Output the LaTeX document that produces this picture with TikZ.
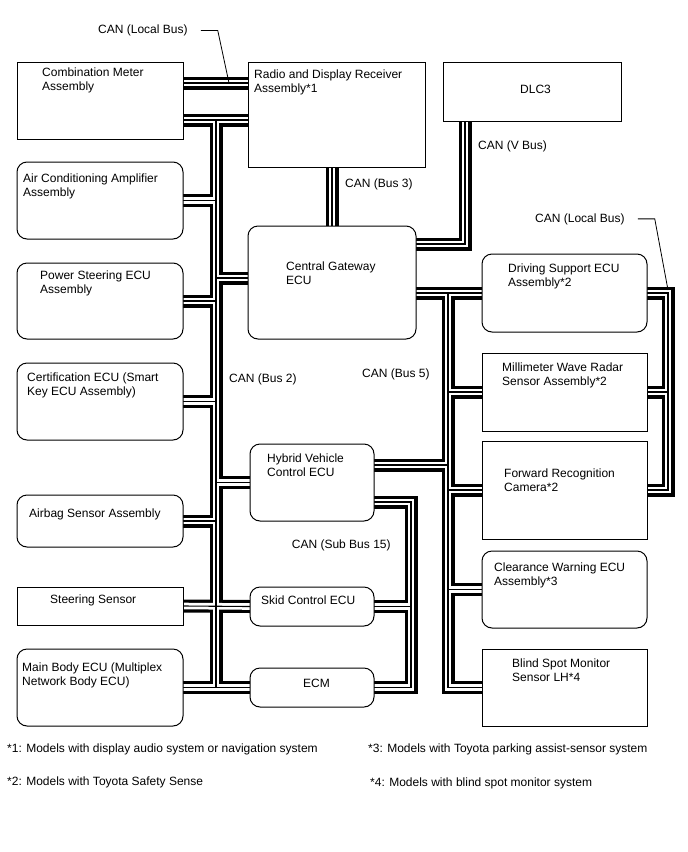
\documentclass[tikz,border=0pt]{standalone}
\usepackage{fontspec}
\setmainfont{Liberation Sans}
\usepackage{tikz}
\usetikzlibrary{calc,positioning,backgrounds}
\tikzset{
  box/.style={draw, line width=1pt, fill=white, inner sep=0pt, outer sep=0pt},
  rbox/.style={box, rounded corners=10pt},
  txt/.style={anchor=north west, inner sep=0pt, align=left, font=\fontsize{12}{14}\selectfont},
  busouter/.style={line width=13pt, black},
  businner/.style={line width=6.6pt, white},
  buswire/.style={line width=1.1pt, black},
  leader/.style={line width=0.8pt}
}

\begin{document}
\begin{tikzpicture}[x=1pt, y=-1pt]
\useasboundingbox (0,0) rectangle (688,852);
\foreach \nm/\xa/\ya/\xb/\yb/\shp in {
    cm/17/62/183/139/box,
    radio/248/62/425/167/box,
    dlc/443/62/621/121/box,
    ac/17/162/183/239/rbox,
    ps/17/263/183/339/rbox,
    cert/17/363/183/440/rbox,
    airbag/17/495/183/547/rbox,
    steer/17/587/183/625/box,
    body/17/649/183/726/rbox,
    gw/248/226/416/339/rbox,
    hv/250/444/374/521/rbox,
    skid/250/587/374/626/rbox,
    ecm/250/668/374/707/rbox,
    dss/482/254/647/332/rbox,
    mwr/482/353/647/431/box,
    frc/482/441/647/539/box,
    cw/482/551/647/628/rbox,
    bsm/482/649/647/726/box}{
    \pgfmathsetmacro{\bw}{\xb-\xa}
    \pgfmathsetmacro{\bh}{\yb-\ya}
    \node[\shp, minimum width=\bw pt, minimum height=\bh pt] (\nm) at ({(\xa+\xb)/2},{(\ya+\yb)/2}) {};
}
\foreach \nm/\tx/\ty/\str in {
    cm/42/67.4/{Combination Meter\\Assembly},
    radio/254/69.4/{Radio and Display Receiver\\Assembly*1},
    dlc/520/84.7/{DLC3},
    ac/23/173.4/{Air Conditioning Amplifier\\Assembly},
    ps/40/270.7/{Power Steering ECU\\Assembly},
    cert/27/372.1/{Certification ECU (Smart\\Key ECU Assembly)},
    airbag/29/508.1/{Airbag Sensor Assembly},
    steer/50/594.7/{Steering Sensor},
    body/22/662.1/{Main Body ECU (Multiplex\\Network Body ECU)},
    gw/286/261.4/{Central Gateway\\ECU},
    hv/267/453.1/{Hybrid Vehicle\\Control ECU},
    skid/261/595.7/{Skid Control ECU},
    ecm/303/678.7/{ECM},
    dss/508/263.1/{Driving Support ECU\\Assembly*2},
    mwr/502/362.1/{Millimeter Wave Radar\\Sensor Assembly*2},
    frc/504/468.1/{Forward Recognition\\Camera*2},
    cw/494/562.1/{Clearance Warning ECU\\Assembly*3},
    bsm/512/658.7/{Blind Spot Monitor\\Sensor LH*4}}{
    \node[txt] (\nm-t) at (\tx,\ty) {\str};
}

% bus labels and notes
\node[txt] (ltlbl) at (98,24.7) {CAN (Local Bus)};
\node[txt] (vlbl) at (478,140.4) {CAN (V Bus)};
\node[txt] (b3lbl) at (345,178.7) {CAN (Bus 3)};
\node[txt] (lrlbl) at (535,213.1) {CAN (Local Bus)};
\node[txt] (b2lbl) at (229,373.1) {CAN (Bus 2)};
\node[txt] (b5lbl) at (362,368.7) {CAN (Bus 5)};
\node[txt] (sblbl) at (291.7,539.7) {CAN (Sub Bus 15)};
\node[txt] (note1) at (7,743.4) {*1: Models with display audio system or navigation system};
\node[txt] (note2) at (7,776.4) {*2: Models with Toyota Safety Sense};
\node[txt] (note3) at (368,743.4) {*3: Models with Toyota parking assist-sensor system};
\node[txt] (note4) at (370,777.4) {*4: Models with blind spot monitor system};

\coordinate (lbtop) at (229,83);
\coordinate (b2top) at (216,120);
\coordinate (b2gw) at (216,278);
\coordinate (b3) at (332,200);
\coordinate (vb) at (465,244);
\coordinate (b5x) at (448,300);
\coordinate (b5hv) at (448,465);
\coordinate (sb) at (411,502);
\coordinate (lbr) at (668,290);

\begin{scope}[on background layer]
\foreach \layer in {busouter,businner,buswire}{
    \draw[\layer] (cm.east |- lbtop) -- (radio.west |- lbtop);
    \draw[\layer] (cm.east |- b2top) -- (radio.west |- b2top);
    \draw[\layer] (b2top) -- (b2top |- body.east);
    \draw[\layer] (ac.east) -- (ac.east -| b2top);
    \draw[\layer] (ps.east) -- (ps.east -| b2top);
    \draw[\layer] (cert.east) -- (cert.east -| b2top);
    \draw[\layer] (airbag.east) -- (airbag.east -| b2top);
    \draw[\layer] (steer.east) -- (skid.west);
    \draw[\layer] (body.east) -- (ecm.west);
    \draw[\layer] (b2gw) -- (gw.west |- b2gw);
    \draw[\layer] (hv.west -| b2top) -- (hv.west);
    \draw[\layer] (radio.south -| b3) -- (gw.north -| b3);
    \draw[\layer] (dlc.south -| vb) -- (vb) -- (gw.east |- vb);
    \draw[\layer] (gw.east |- dss.west) -- (dss.west);
    \draw[\layer] (dss.west -| b5x) -- (b5x |- bsm.west) -- (bsm.west);
    \draw[\layer] (mwr.west -| b5x) -- (mwr.west);
    \draw[\layer] (frc.west -| b5x) -- (frc.west);
    \draw[\layer] (cw.west -| b5x) -- (cw.west);
    \draw[\layer] (hv.east |- b5hv) -- (b5hv);
    \draw[\layer] (hv.east |- sb) -- (sb) -- (sb |- ecm.east) -- (ecm.east);
    \draw[\layer] (skid.east) -- (skid.east -| sb);
    \draw[\layer] (dss.east) -- (dss.east -| lbr) -- (lbr |- frc.east) -- (frc.east);
    \draw[\layer] (mwr.east) -- (mwr.east -| lbr);
}
\end{scope}

\draw[leader] (ltlbl.east) ++(13,0) -- ++(17,0) -- (lbtop);
\draw[leader] (lrlbl.east) ++(13,0) -- ++(17,0) -- (lbr);
\end{tikzpicture}
\end{document}
